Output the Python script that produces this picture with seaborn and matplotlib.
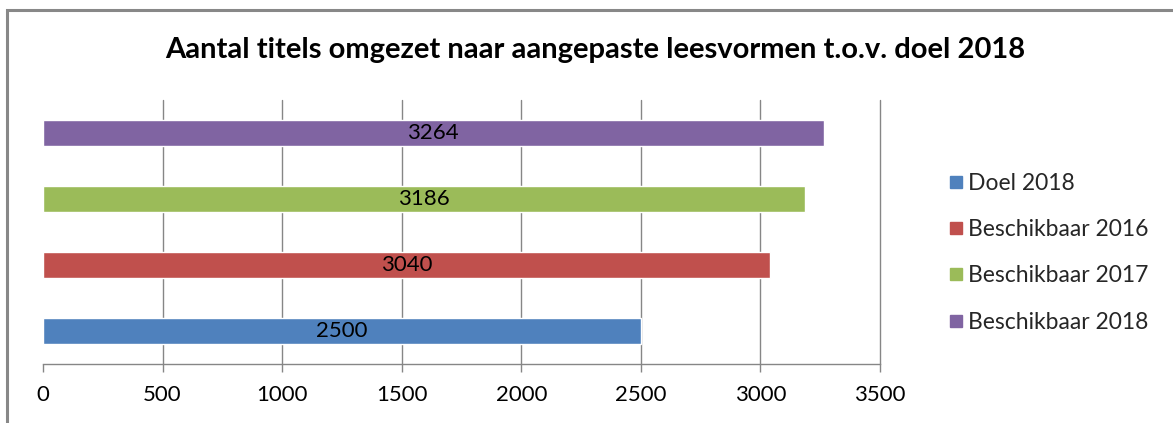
import matplotlib
matplotlib.use("Agg")
import matplotlib.pyplot as plt
import seaborn as sns
import pandas as pd
from matplotlib.patches import Rectangle
from matplotlib.lines import Line2D

series = ["Doel 2018", "Beschikbaar 2016", "Beschikbaar 2017", "Beschikbaar 2018"]
values = [2500, 3040, 3186, 3264]
colors = ["#4F81BD", "#C0504D", "#9BBB59", "#8064A2"]
xticks = [0, 500, 1000, 1500, 2000, 2500, 3000, 3500]
title = "Aantal titels omgezet naar aangepaste leesvormen t.o.v. doel 2018"

df = pd.DataFrame({"series": series, "value": values})

sns.set_theme(style="white")
plt.rcParams["font.family"] = ["Lato", "DejaVu Sans"]

W, H = 1173, 423
fig = plt.figure(figsize=(W / 100, H / 100), dpi=100)
ax = fig.add_axes([43 / W, 1 - 364 / H, (880 - 43) / W, (364 - 100) / H])

order = series[::-1]
sns.barplot(data=df, x="value", y="series", hue="series", order=order,
            hue_order=series, palette=colors, dodge=False, width=0.4,
            legend=False, ax=ax, saturation=1)

grid_c = "#868686"
ax.set_xlim(0, 3500)
ax.set_ylim(3.5, -0.5)
ax.set_xticks(xticks)
ax.set_xticklabels([str(t) for t in xticks], fontsize=16, color="#000000")
ax.set_yticks([])
ax.set_xlabel("")
ax.set_ylabel("")
ax.xaxis.grid(False)
for t in xticks[1:]:
    ax.axvline(t, color=grid_c, linewidth=1, zorder=0, clip_on=False)
for s in ["top", "left", "right"]:
    ax.spines[s].set_visible(False)
ax.spines["bottom"].set_color(grid_c)
ax.spines["bottom"].set_linewidth(1)
ax.tick_params(axis="x", bottom=True, length=5.8, width=1, color=grid_c, pad=9)

for cont in ax.containers:
    for bar in cont:
        w = bar.get_width()
        if w > 0:
            ax.text(w / 2, bar.get_y() + bar.get_height() / 2, f"{int(round(w))}",
                    ha="center", va="center", fontsize=16, color="#000000")

fig.text(595 / W, 1 - 50 / H, title, ha="center", va="center",
         fontsize=21, fontweight="bold", color="#000000")

handles = [Line2D([0], [0], marker="s", linestyle="none", markersize=8,
                  markerfacecolor=c, markeredgecolor=c) for c in colors]
fig.legend(handles, series, loc="upper left", bbox_to_anchor=(926 / W, 1 - 152 / H),
           frameon=False, fontsize=16.5, handletextpad=0.15, labelspacing=1.11,
           handlelength=0.8)

fig.patches.append(Rectangle((7 / W, -0.1), 1.2, 1 - 10 / H + 0.1,
                             transform=fig.transFigure, fill=False,
                             edgecolor="#888888", linewidth=2.2))

fig.savefig("out.png", dpi=100)
